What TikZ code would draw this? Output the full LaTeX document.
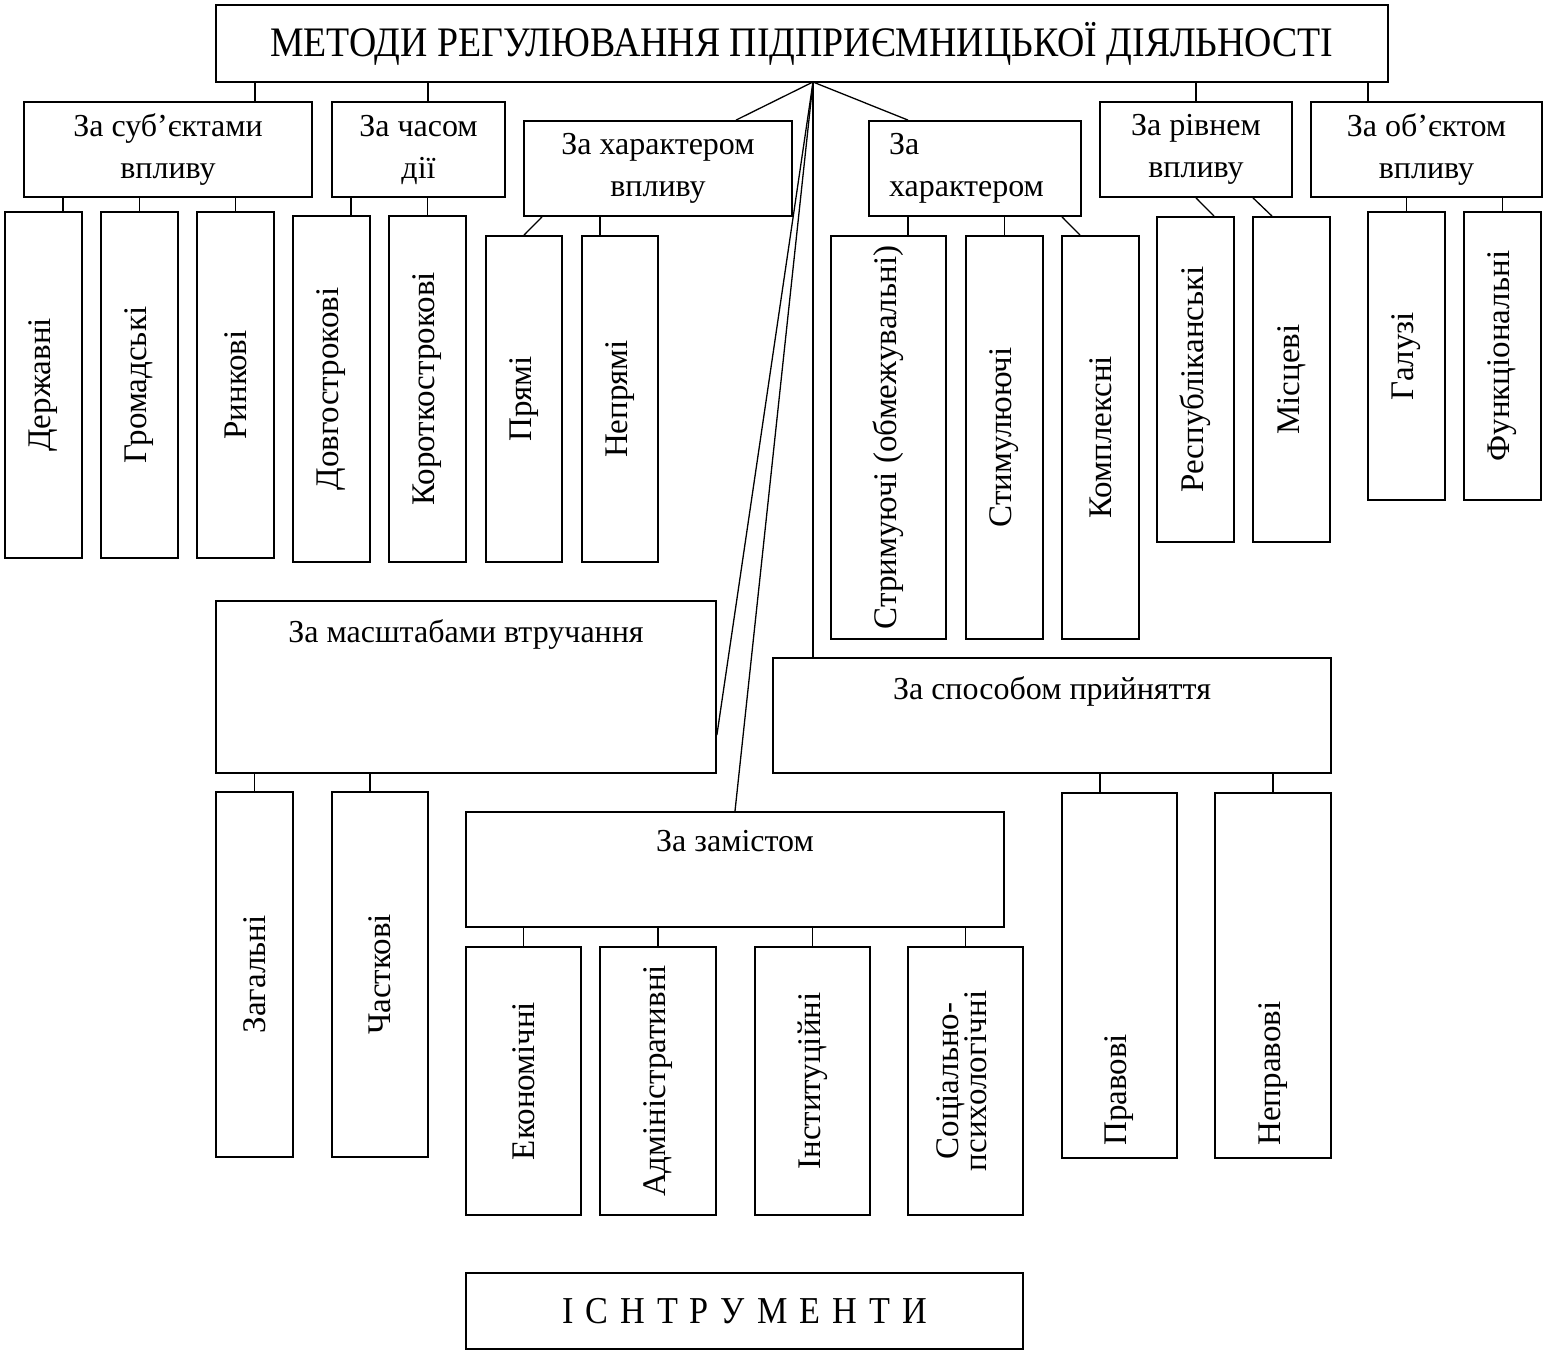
\documentclass[tikz,border=0pt]{standalone}
\usepackage{fontspec}
\usepackage{graphicx}
\usetikzlibrary{positioning}
\setmainfont{Liberation Serif}
\newfontfamily\narrowserif[FakeStretch=0.9]{Liberation Serif}

\tikzset{
  box/.style={draw=black, line width=1.8pt, inner sep=0pt},
  link/.style={draw=black, line width=1.3pt},
  head/.style={box, font=\narrowserif\fontsize{42pt}{46pt}\selectfont},
  group/.style={box, align=center, font=\fontsize{32pt}{42pt}\selectfont},
  leaf/.style={box, font=\fontsize{33pt}{34pt}\selectfont},
  caption/.style={inner sep=0pt, font=\fontsize{32pt}{42pt}\selectfont},
}

\begin{document}
\begin{tikzpicture}[x=1pt, y=-1pt]
\fill[white] (0,0) rectangle (1543,1351);
\useasboundingbox (0,0) rectangle (1543,1351);

\node[head, minimum width=1172, minimum height=77] (meth) at (802,43.5) {\raisebox{4pt}{МЕТОДИ РЕГУЛЮВАННЯ ПІДПРИЄМНИЦЬКОЇ ДІЯЛЬНОСТІ}};
\coordinate (hub) at (813,82);

\node[group, minimum width=288, minimum height=95] (subj) at (168,149.5) {За суб’єктами\\впливу};
\node[group, minimum width=173, minimum height=95] (chas) at (418.5,149.5) {За часом\\дії};
\node[group, minimum width=268, minimum height=95] (charv) at (658,168.5) {За характером\\впливу};
\node[group, align=left, text width=172pt, inner xsep=20pt, minimum height=95] (chard) at (975,168.5) {За\\характером};
\node[group, minimum width=192, minimum height=95] (rivn) at (1196,149.5) {За рівнем\\впливу};
\node[group, minimum width=231, minimum height=95] (obj) at (1426.5,149.5) {За об’єктом\\впливу};

\node[leaf, minimum width=77, minimum height=346] (derzh) at (43.5,385) {\rotatebox{90}{Державні}};
\node[leaf, minimum width=77, minimum height=346] (hrom) at (139.5,385) {\rotatebox{90}{Громадські}};
\node[leaf, minimum width=77, minimum height=346] (rynk) at (235.5,385) {\rotatebox{90}{Ринкові}};
\node[leaf, minimum width=77, minimum height=346] (dovh) at (331.5,389) {\rotatebox{90}{Довгострокові}};
\node[leaf, minimum width=77, minimum height=346] (korot) at (427.5,389) {\rotatebox{90}{Короткострокові}};
\node[leaf, minimum width=76, minimum height=326] (pryami) at (524,399) {\rotatebox{90}{Прямі}};
\node[leaf, minimum width=76, minimum height=326] (nepr) at (620,399) {\rotatebox{90}{Непрямі}};
\node[leaf, minimum width=115, minimum height=403] (strym) at (888.5,437.5) {\rotatebox{90}{Стримуючі (обмежувальні)}};
\node[leaf, minimum width=77, minimum height=403] (stym) at (1004.5,437.5) {\rotatebox{90}{Стимулюючі}};
\node[leaf, minimum width=77, minimum height=403] (kompl) at (1100.5,437.5) {\rotatebox{90}{Комплексні}};
\node[leaf, minimum width=77, minimum height=325] (resp) at (1195.5,379.5) {\rotatebox{90}{Республіканські}};
\node[leaf, minimum width=77, minimum height=325] (misc) at (1291.5,379.5) {\rotatebox{90}{Місцеві}};
\node[leaf, minimum width=77, minimum height=288] (haluz) at (1406.5,356) {\rotatebox{90}{Галузі}};
\node[leaf, minimum width=77, minimum height=288] (funk) at (1502.5,356) {\rotatebox{90}{Функціональні}};

\node[box, minimum width=500, minimum height=172] (scale) at (466,687) {};
\node[caption, below=19pt of scale.north] (scaletxt) {За масштабами втручання};
\node[box, minimum width=558, minimum height=115] (sposib) at (1052,715.5) {};
\node[caption, below=19pt of sposib.north] (sposibtxt) {За способом прийняття};
\node[box, minimum width=538, minimum height=115] (zmist) at (735,869.5) {};
\node[caption, below=19pt of zmist.north] (zmisttxt) {За замістом};

\node[leaf, minimum width=77, minimum height=365] (zahal) at (254.5,974.5) {\rotatebox{90}{Загальні}};
\node[leaf, minimum width=96, minimum height=365] (chastk) at (380,974.5) {\rotatebox{90}{Часткові}};
\node[leaf, minimum width=115, minimum height=268] (ekon) at (523.5,1081) {\rotatebox{90}{Економічні}};
\node[leaf, minimum width=116, minimum height=268] (admin) at (658,1081) {\rotatebox{90}{Адміністративні}};
\node[leaf, minimum width=115, minimum height=268] (inst) at (812.5,1081) {\rotatebox{90}{Інституційні}};
\node[leaf, minimum width=115, minimum height=268] (soc) at (965.5,1081) {\rotatebox{90}{\begin{tabular}{@{}c@{}}Соціально-\\[-6pt]психологічні\end{tabular}}};
\node[leaf, minimum width=115, minimum height=365] (prav) at (1119.5,975.5) {\rotatebox{90}{\makebox[340pt][l]{Правові}}};
\node[leaf, minimum width=116, minimum height=365] (neprav) at (1273,975.5) {\rotatebox{90}{\makebox[340pt][l]{Неправові}}};

\node[head, minimum width=557, minimum height=76, font=\narrowserif\fontsize{38pt}{44pt}\selectfont] (instr) at (744.5,1311) {\spaceskip=12pt\relax І С Н Т Р У М Е Н Т И};

\draw[link] (meth.south -| 255,0) -- (subj.north -| 255,0);
\draw[link] (meth.south -| 428,0) -- (chas.north -| 428,0);
\draw[link] (meth.south -| rivn) -- (rivn.north);
\draw[link] (meth.south -| 1368,0) -- (obj.north -| 1368,0);
\draw[link] (hub) -- (charv.north -| 736,0);
\draw[link] (hub) -- (chard.north -| 908,0);
\draw[link] (hub) -- (scale.east |- 0,735);
\draw[link] (hub) -- (zmist.north);
\draw[link] (hub) -- (sposib.north -| hub);

\draw[link] (subj.south -| 63,0) -- (derzh.north -| 63,0);
\draw[link] (subj.south -| hrom) -- (hrom.north);
\draw[link] (subj.south -| rynk) -- (rynk.north);
\draw[link] (chas.south -| 351,0) -- (dovh.north -| 351,0);
\draw[link] (chas.south -| korot) -- (korot.north);
\draw[link] (charv.south -| 542,0) -- (pryami.north -| 524,0);
\draw[link] (charv.south -| 600,0) -- (nepr.north -| 600,0);
\draw[link] (chard.south -| 908,0) -- (strym.north -| 908,0);
\draw[link] (chard.south -| stym) -- (stym.north);
\draw[link] (chard.south -| 1062,0) -- (kompl.north -| 1080,0);
\draw[link] (rivn.south -| 1196,0) -- (resp.north -| 1214,0);
\draw[link] (rivn.south -| 1253,0) -- (misc.north -| 1272,0);
\draw[link] (obj.south -| haluz) -- (haluz.north);
\draw[link] (obj.south -| funk) -- (funk.north);

\draw[link] (scale.south -| zahal) -- (zahal.north);
\draw[link] (scale.south -| 370,0) -- (chastk.north -| 370,0);
\draw[link] (zmist.south -| ekon) -- (ekon.north);
\draw[link] (zmist.south -| admin) -- (admin.north);
\draw[link] (zmist.south -| inst) -- (inst.north);
\draw[link] (zmist.south -| soc) -- (soc.north);
\draw[link] (sposib.south -| 1100,0) -- (prav.north -| 1100,0);
\draw[link] (sposib.south -| neprav) -- (neprav.north);
\end{tikzpicture}
\end{document}
